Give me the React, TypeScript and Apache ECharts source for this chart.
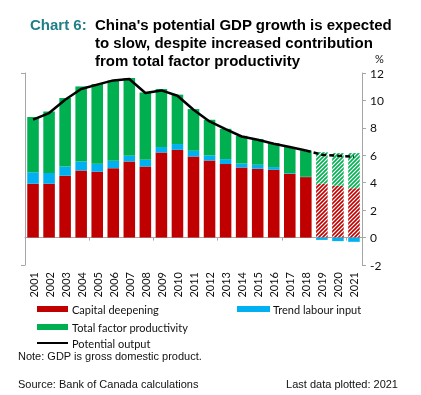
import React, { useEffect, useRef } from "react";
import * as echarts from "echarts";

const years = ["2001","2002","2003","2004","2005","2006","2007","2008","2009","2010","2011","2012","2013","2014","2015","2016","2017","2018","2019","2020","2021"];
const capitalDeepening = [3.92,3.92,4.5,4.89,4.8,5.06,5.55,5.18,6.2,6.4,5.91,5.62,5.36,5.11,5.01,4.94,4.65,4.41,3.92,3.77,3.6];
const trendLabour = [0.85,0.78,0.68,0.66,0.58,0.54,0.41,0.49,0.4,0.42,0.42,0.37,0.36,0.29,0.3,0.2,0.05,0.02,-0.17,-0.26,-0.31];
const tfp = [4.02,4.5,4.99,5.47,5.82,5.86,5.67,4.91,4.23,3.6,3.04,2.6,2.21,2.02,1.87,1.75,1.9,1.92,2.31,2.39,2.56];
const potentialOutput = [8.6,9.08,10.05,10.83,11.15,11.46,11.56,10.54,10.73,10.34,9.32,8.47,7.91,7.37,7.13,6.84,6.6,6.35,6.04,5.96,5.9];
const yTicks = { min: -2, max: 12, interval: 2 };
const firstProjectionYear = "2019";

const RED = "#c00000";
const GREEN = "#00b050";
const BLUE = "#00b0f0";
const AXIS = "#a6a6a6";
const SANS = "Liberation Sans, Arial, sans-serif";
const NARROW = "Liberation Sans Narrow, Liberation Sans, Arial, sans-serif";
const BODY = "Lato, Open Sans, sans-serif";

function hatchPattern(c: string) {
  const svg =
    `<svg xmlns="http://www.w3.org/2000/svg" width="4" height="4">` +
    `<rect width="4" height="4" fill="#ffffff"/>` +
    `<path d="M0,4 L4,0 M-1,1 L1,-1 M3,5 L5,3" stroke="${c}" stroke-width="1.6"/>` +
    `</svg>`;
  return {
    image: "data:image/svg+xml;charset=utf-8," + encodeURIComponent(svg),
    repeat: "repeat",
    imageWidth: 4,
    imageHeight: 4,
  };
}

export default function App() {
  const ref = useRef<HTMLDivElement>(null);
  useEffect(() => {
    if (!ref.current) return;
    const chart = echarts.init(ref.current, null, { renderer: "svg" });
    const projStart = years.indexOf(firstProjectionYear);
    const withHatch = (vals: number[], c: string) =>
      vals.map((v, i) => (i >= projStart ? { value: v, itemStyle: { color: hatchPattern(c) } } : v));
    const solidLine = potentialOutput.map((v, i) => (i < projStart ? v : "-"));
    const dashedLine = potentialOutput.map((v, i) => (i >= projStart - 1 ? v : "-"));

    chart.setOption({
      animation: false,
      grid: { left: 25, right: 59, top: 73, bottom: 130 },
      xAxis: [
        {
          type: "category",
          data: years,
          position: "bottom",
          axisLine: { onZero: true, lineStyle: { color: AXIS, width: 1 } },
          axisTick: { show: true, interval: 3, length: 3, lineStyle: { color: AXIS } },
          axisLabel: { show: false },
        },
        {
          type: "category",
          data: years,
          position: "bottom",
          axisLine: { show: false, onZero: false },
          axisTick: { show: false },
          axisLabel: { rotate: 90, fontSize: 11, margin: 7, color: "#111", fontFamily: BODY, interval: 0 },
        },
      ],
      yAxis: [
        {
          type: "value",
          position: "right",
          min: yTicks.min,
          max: yTicks.max,
          interval: yTicks.interval,
          axisLine: { show: true, lineStyle: { color: AXIS } },
          axisTick: { show: true, inside: false, length: 4, lineStyle: { color: AXIS } },
          axisLabel: { fontSize: 12, color: "#111", margin: 8, fontFamily: BODY },
          splitLine: { show: false },
        },
        {
          type: "value",
          position: "left",
          min: yTicks.min,
          max: yTicks.max,
          axisLine: { show: true, lineStyle: { color: AXIS } },
          axisTick: { show: true, length: 4, customValues: [yTicks.min, yTicks.max], lineStyle: { color: AXIS } },
          axisLabel: { show: false },
          splitLine: { show: false },
        },
      ],
      series: [
        {
          name: "Capital deepening",
          type: "bar",
          stack: "g",
          barCategoryGap: "28%",
          itemStyle: { color: RED },
          data: withHatch(capitalDeepening, RED),
        },
        {
          name: "Trend labour input",
          type: "bar",
          stack: "g",
          barCategoryGap: "28%",
          itemStyle: { color: BLUE },
          data: trendLabour,
        },
        {
          name: "Total factor productivity",
          type: "bar",
          stack: "g",
          barCategoryGap: "28%",
          itemStyle: { color: GREEN },
          data: withHatch(tfp, GREEN),
        },
        {
          name: "Potential output",
          type: "line",
          symbol: "none",
          lineStyle: { color: "#000", width: 2.5 },
          data: solidLine,
          z: 5,
        },
        {
          name: "Potential output (projection)",
          type: "line",
          symbol: "none",
          lineStyle: { color: "#000", width: 2.5, type: [5, 3] },
          data: dashedLine,
          z: 5,
        },
      ],
      graphic: [
        { type: "text", left: 30, top: 17, style: { text: "Chart 6:", font: `bold 15px ${SANS}`, fill: "#1f7f86" } },
        { type: "text", left: 95, top: 17, style: { text: "China's potential GDP growth is expected", font: `bold 15px ${SANS}`, fill: "#000" } },
        { type: "text", left: 95, top: 35, style: { text: "to slow, despite increased contribution", font: `bold 15px ${SANS}`, fill: "#000" } },
        { type: "text", left: 95, top: 53, style: { text: "from total factor productivity", font: `bold 15px ${SANS}`, fill: "#000" } },
        { type: "text", left: 375, top: 53, style: { text: "%", font: `11px ${BODY}`, fill: "#111" } },
        { type: "rect", shape: { x: 37, y: 306, width: 31, height: 6 }, style: { fill: RED } },
        { type: "text", x: 72, y: 309, style: { text: "Capital deepening", font: `11px ${BODY}`, fill: "#111", verticalAlign: "middle" } },
        { type: "rect", shape: { x: 237, y: 306, width: 33, height: 6 }, style: { fill: BLUE } },
        { type: "text", x: 273, y: 309, style: { text: "Trend labour input", font: `11px ${BODY}`, fill: "#111", verticalAlign: "middle" } },
        { type: "rect", shape: { x: 37, y: 324, width: 31, height: 6 }, style: { fill: GREEN } },
        { type: "text", x: 72, y: 327, style: { text: "Total factor productivity", font: `11px ${BODY}`, fill: "#111", verticalAlign: "middle" } },
        { type: "line", shape: { x1: 37, y1: 343, x2: 68, y2: 343 }, style: { stroke: "#000", lineWidth: 2 } },
        { type: "text", x: 72, y: 343, style: { text: "Potential output", font: `11px ${BODY}`, fill: "#111", verticalAlign: "middle" } },
        { type: "text", x: 18, y: 356, style: { text: "Note: GDP is gross domestic product.", font: `11px ${NARROW}`, fill: "#111", verticalAlign: "middle" } },
        { type: "text", x: 18, y: 384, style: { text: "Source: Bank of Canada calculations", font: `11px ${NARROW}`, fill: "#111", verticalAlign: "middle" } },
        { type: "text", x: 398, y: 384, style: { text: "Last data plotted: 2021", font: `11px ${NARROW}`, fill: "#111", verticalAlign: "middle", align: "right" } },
      ],
    });
    return () => chart.dispose();
  }, []);
  return <div ref={ref} style={{ width: 421, height: 395, position: "fixed", left: 0, top: 0 }} />;
}
